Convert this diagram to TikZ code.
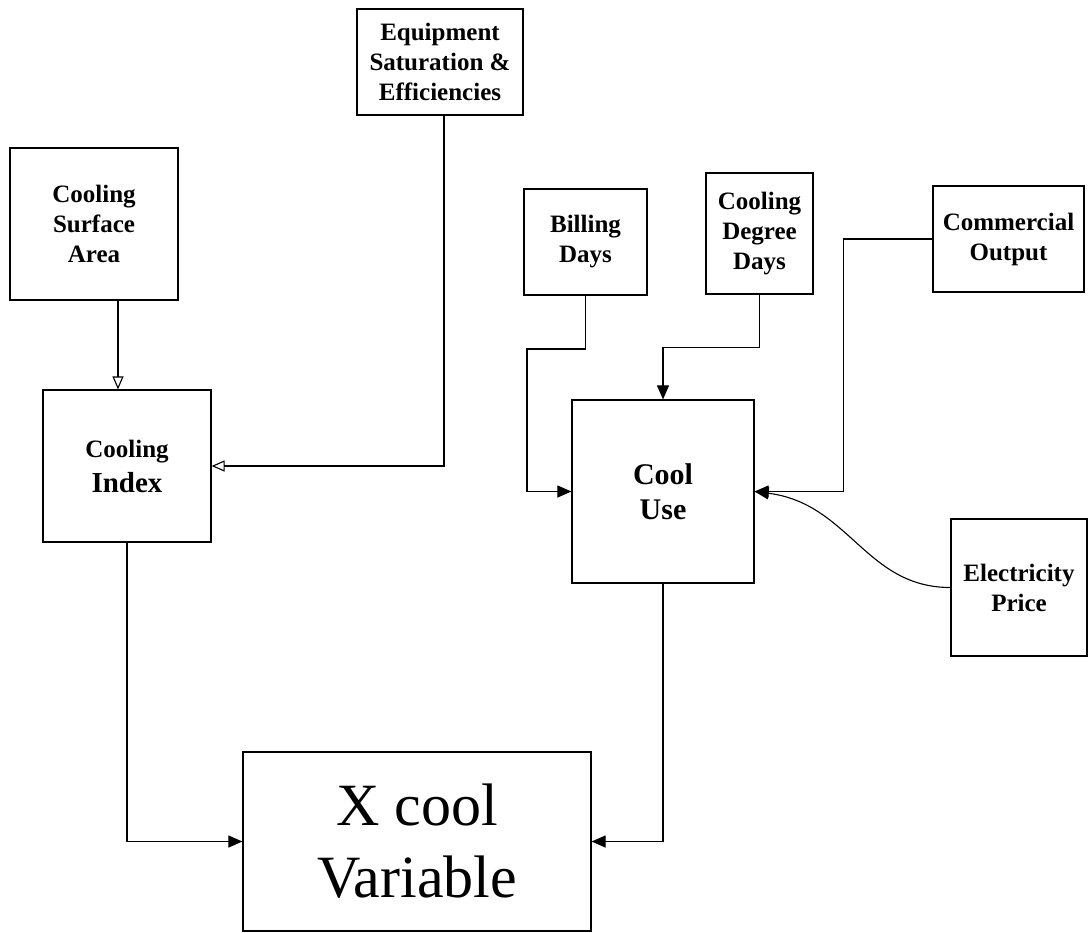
\documentclass[tikz,border=0pt]{standalone}
\usepackage{fontspec}
\setmainfont{Liberation Serif}
\usetikzlibrary{arrows.meta}
\begin{document}
\begin{tikzpicture}[x=1pt,y=-1pt,
  box/.style={draw, line width=1.2pt, inner sep=0pt, align=center,
    font=\bfseries\fontsize{25}{30}\selectfont},
  link/.style={line width=1.1pt},
  arr/.style={link, -{Triangle[length=14pt,width=12pt]}},
  openarr/.style={link, -{Triangle[open,length=13pt,width=11pt]}}]

% page frame
\fill[white] (0,0) rectangle (1091,932);
\useasboundingbox (0,0) rectangle (1091,932);

% input boxes
\node[box, minimum width=166pt, minimum height=106pt] (equip) at (440,62)
  {Equipment\\Saturation \&\\Efficiencies};
\node[box, minimum width=168pt, minimum height=152pt] (csa) at (94,224)
  {Cooling\\Surface\\Area};
\node[box, minimum width=123pt, minimum height=106pt] (bill) at (585.5,242)
  {Billing\\Days};
\node[box, minimum width=107pt, minimum height=121pt] (cdd) at (759.5,233.5)
  {Cooling\\Degree\\Days};
\node[box, minimum width=151pt, minimum height=106pt] (comm) at (1008.5,239)
  {Commercial\\Output};
\node[box, minimum width=136pt, minimum height=137pt] (eprice) at (1019,587.5)
  {Electricity\\Price};

% intermediate boxes
\node[box, minimum width=168pt, minimum height=152pt,
  font=\bfseries\fontsize{29}{35}\selectfont] (cindex) at (127,466)
  {{\fontsize{25}{35}\selectfont Cooling}\\Index};
\node[box, minimum width=182pt, minimum height=183pt,
  font=\bfseries\fontsize{30}{35}\selectfont] (cooluse) at (663,491.5)
  {Cool\\Use};

% result box
\node[box, minimum width=348pt, minimum height=179pt,
  font=\mdseries\fontsize{60}{72}\selectfont] (xcool) at (417,841.5)
  {X cool\\Variable};

% connectors into the cooling index
\draw[openarr] ([xshift=24pt]csa.south) -- ([xshift=24pt]csa.south |- cindex.north);
\draw[openarr] ([xshift=4pt]equip.south) |- (cindex.east);

% connectors into cool use
\coordinate (bturn) at (527,349);
\draw[arr] (bill.south) |- (bturn) |- (cooluse.west);
\draw[arr] (cdd.south) -- ++(0,53) -| (cooluse.north);
\draw[arr] (comm.west) -| ([xshift=89pt]cooluse.east) -- (cooluse.east);
\draw[arr] (eprice.west) .. controls +(-85,0) and +(95,12) .. (cooluse.east);

% connectors into the result
\draw[arr] (cindex.south) |- (xcool.west);
\draw[arr] (cooluse.south) |- (xcool.east);
\end{tikzpicture}
\end{document}
